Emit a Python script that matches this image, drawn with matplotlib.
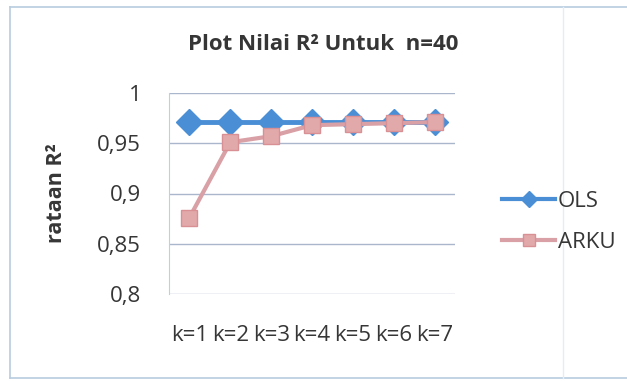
import matplotlib.pyplot as plt
import numpy as np
from matplotlib.lines import Line2D

plt.rcParams['font.family'] = ['Open Sans', 'DejaVu Sans']

categories = ['k=1', 'k=2', 'k=3', 'k=4', 'k=5', 'k=6', 'k=7']
ols = [0.971, 0.971, 0.971, 0.971, 0.971, 0.971, 0.971]
arku = [0.876, 0.951, 0.957, 0.968, 0.969, 0.970, 0.971]
yticks = [0.8, 0.85, 0.9, 0.95, 1.0]
ytick_labels = ['0,8', '0,85', '0,9', '0,95', '1']

blue = '#4a8fd6'
pink = '#d9a0a6'
grid_col = '#a9b6cc'
text_col = '#363636'

fig = plt.figure(figsize=(6.27, 3.81), dpi=100)

# chart border
fig.add_artist(Line2D([10/627, 10/627], [3/381, 374/381], color='#b8cde0', lw=1.2))
fig.add_artist(Line2D([10/627, 1.0], [374/381, 374/381], color='#b8cde0', lw=1.2))
fig.add_artist(Line2D([10/627, 1.0], [3/381, 3/381], color='#b8cde0', lw=1.2))
fig.add_artist(Line2D([563/627, 563/627], [3/381, 374/381], color='#e8ecf2', lw=1.0))

ax = fig.add_axes([169/627, 1 - 294/381, (455 - 169)/627, (294 - 93)/381])
x = np.arange(len(categories))

ax.plot(x, ols, color=blue, lw=3.5, marker='D', markersize=13,
        markerfacecolor=blue, markeredgecolor=blue, zorder=3)
ax.plot(x, arku, color=pink, lw=3, marker='s', markersize=12,
        markerfacecolor='#e2a9ab', markeredgecolor='#d99094', zorder=4)

ax.set_xlim(-0.5, len(categories) - 0.5)
ax.set_ylim(0.8, 1.0)
ax.set_yticks(yticks)
ax.set_yticklabels(ytick_labels)
ax.set_xticks(x)
ax.set_xticklabels(categories)
ax.tick_params(axis='both', length=0, labelsize=16, colors=text_col)
ax.tick_params(axis='y', pad=20)
ax.tick_params(axis='x', pad=22)

ax.grid(axis='y', color=grid_col, lw=1.0)
ax.set_axisbelow(True)
for side in ['top', 'right', 'bottom']:
    ax.spines[side].set_visible(False)
ax.spines['left'].set_color('#c8ccd4')

fig.text(323/627, 1 - 45/381, 'Plot Nilai R² Untuk  n=40', ha='center', va='center',
         fontsize=16, fontweight='bold', color=text_col)
fig.text(57/627, 1 - 193/381, 'rataan R²', ha='center', va='center', rotation=90,
         fontsize=15.5, fontweight='bold', color=text_col)

handles = [Line2D([], [], color=blue, lw=3, marker='D', markersize=8),
           Line2D([], [], color=pink, lw=3, marker='s', markersize=8,
                  markerfacecolor='#e2a9ab', markeredgecolor='#d99094')]
fig.legend(handles, ['OLS', 'ARKU'], loc='center left', bbox_to_anchor=(482/627, 1 - 222/381),
           frameon=False, fontsize=16, handlelength=2.4, handletextpad=0.1,
           labelspacing=0.9, labelcolor=text_col)

fig.savefig('out.png', dpi=100, facecolor='white')
